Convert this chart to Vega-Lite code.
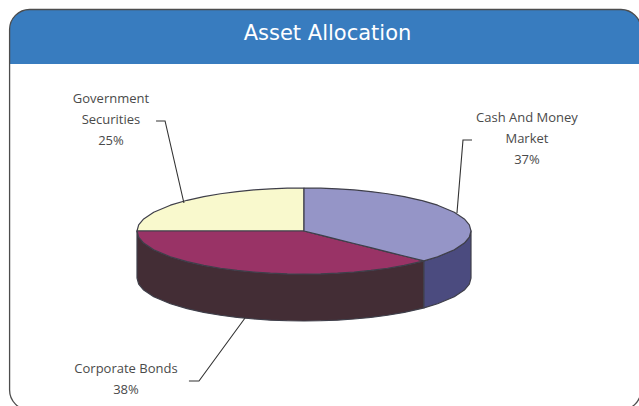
{
"$schema":"https://vega.github.io/schema/vega-lite/v6.json",
"width":639,"height":406,"padding":0,"autosize":"none","background":"white",
"config":{"view":{"stroke":null}},
"title":{"text":"Asset Allocation","font":"DejaVu Sans","fontSize":21,"fontWeight":"normal","color":"#ffffff","anchor":"middle","dx":8,"offset":-55,"baseline":"middle"},
"datasets":{
"panel":[{"name":"card","x":-1.763,"x2":2.018,"y":5.151,"y2":-4.163,"hy":3.884}],
"labels":[
{"label":"Government\nSecurities\n25%","x":-1.156,"y":3.07},
{"label":"Cash And Money\nMarket\n37%","x":1.335,"y":2.628},
{"label":"Corporate Bonds\n38%","x":-1.066,"y":-3.209}],
"leaders":[
{"s":"Government Securities","i":0,"x":-0.886,"y":2.558},{"s":"Government Securities","i":1,"x":-0.832,"y":2.558},{"s":"Government Securities","i":2,"x":-0.719,"y":0.651},
{"s":"Cash And Money Market","i":0,"x":1.006,"y":2.116},{"s":"Cash And Money Market","i":1,"x":0.952,"y":2.116},{"s":"Cash And Money Market","i":2,"x":0.916,"y":0.419},
{"s":"Corporate Bonds","i":0,"x":-0.689,"y":-3.488},{"s":"Corporate Bonds","i":1,"x":-0.629,"y":-3.488},{"s":"Corporate Bonds","i":2,"x":-0.353,"y":-2.023}],
"pie":[
{"piece":"Corporate side","x":-1,"y":0,"y2":-1.093},{"piece":"Corporate side","x":-0.99,"y":-0.141,"y2":-1.234},{"piece":"Corporate side","x":-0.96,"y":-0.28,"y2":-1.373},{"piece":"Corporate side","x":-0.9,"y":-0.436,"y2":-1.529},{"piece":"Corporate side","x":-0.8,"y":-0.6,"y2":-1.693},{"piece":"Corporate side","x":-0.7,"y":-0.714,"y2":-1.807},{"piece":"Corporate side","x":-0.6,"y":-0.8,"y2":-1.893},{"piece":"Corporate side","x":-0.5,"y":-0.866,"y2":-1.959},{"piece":"Corporate side","x":-0.4,"y":-0.917,"y2":-2.01},{"piece":"Corporate side","x":-0.3,"y":-0.954,"y2":-2.047},{"piece":"Corporate side","x":-0.2,"y":-0.98,"y2":-2.073},{"piece":"Corporate side","x":-0.1,"y":-0.995,"y2":-2.088},{"piece":"Corporate side","x":0,"y":-1,"y2":-2.093},{"piece":"Corporate side","x":0.1,"y":-0.995,"y2":-2.088},{"piece":"Corporate side","x":0.2,"y":-0.98,"y2":-2.073},{"piece":"Corporate side","x":0.3,"y":-0.954,"y2":-2.047},{"piece":"Corporate side","x":0.4,"y":-0.917,"y2":-2.01},{"piece":"Corporate side","x":0.5,"y":-0.866,"y2":-1.959},{"piece":"Corporate side","x":0.6,"y":-0.8,"y2":-1.893},{"piece":"Corporate side","x":0.7,"y":-0.714,"y2":-1.807},{"piece":"Corporate side","x":0.718,"y":-0.696,"y2":-1.789},
{"piece":"Cash side","x":0.718,"y":-0.696,"y2":-1.789},{"piece":"Cash side","x":0.8,"y":-0.6,"y2":-1.693},{"piece":"Cash side","x":0.9,"y":-0.436,"y2":-1.529},{"piece":"Cash side","x":0.96,"y":-0.28,"y2":-1.373},{"piece":"Cash side","x":0.99,"y":-0.141,"y2":-1.234},{"piece":"Cash side","x":1,"y":0,"y2":-1.093},
{"piece":"Government","x":-1,"y":0,"y2":0},{"piece":"Government","x":-0.99,"y":0.141,"y2":0},{"piece":"Government","x":-0.96,"y":0.28,"y2":0},{"piece":"Government","x":-0.9,"y":0.436,"y2":0},{"piece":"Government","x":-0.8,"y":0.6,"y2":0},{"piece":"Government","x":-0.7,"y":0.714,"y2":0},{"piece":"Government","x":-0.6,"y":0.8,"y2":0},{"piece":"Government","x":-0.5,"y":0.866,"y2":0},{"piece":"Government","x":-0.4,"y":0.917,"y2":0},{"piece":"Government","x":-0.3,"y":0.954,"y2":0},{"piece":"Government","x":-0.2,"y":0.98,"y2":0},{"piece":"Government","x":-0.1,"y":0.995,"y2":0},{"piece":"Government","x":0,"y":1,"y2":0},
{"piece":"Corporate","x":-1,"y":0,"y2":0},{"piece":"Corporate","x":-0.99,"y":0,"y2":-0.141},{"piece":"Corporate","x":-0.96,"y":0,"y2":-0.28},{"piece":"Corporate","x":-0.9,"y":0,"y2":-0.436},{"piece":"Corporate","x":-0.8,"y":0,"y2":-0.6},{"piece":"Corporate","x":-0.7,"y":0,"y2":-0.714},{"piece":"Corporate","x":-0.6,"y":0,"y2":-0.8},{"piece":"Corporate","x":-0.5,"y":0,"y2":-0.866},{"piece":"Corporate","x":-0.4,"y":0,"y2":-0.917},{"piece":"Corporate","x":-0.3,"y":0,"y2":-0.954},{"piece":"Corporate","x":-0.2,"y":0,"y2":-0.98},{"piece":"Corporate","x":-0.1,"y":0,"y2":-0.995},{"piece":"Corporate","x":0,"y":0,"y2":-1},{"piece":"Corporate","x":0.1,"y":-0.097,"y2":-0.995},{"piece":"Corporate","x":0.2,"y":-0.194,"y2":-0.98},{"piece":"Corporate","x":0.3,"y":-0.291,"y2":-0.954},{"piece":"Corporate","x":0.4,"y":-0.388,"y2":-0.917},{"piece":"Corporate","x":0.5,"y":-0.485,"y2":-0.866},{"piece":"Corporate","x":0.6,"y":-0.582,"y2":-0.8},{"piece":"Corporate","x":0.7,"y":-0.678,"y2":-0.714},{"piece":"Corporate","x":0.718,"y":-0.696,"y2":-0.696},
{"piece":"Cash","x":0,"y":1,"y2":0},{"piece":"Cash","x":0.1,"y":0.995,"y2":-0.097},{"piece":"Cash","x":0.2,"y":0.98,"y2":-0.194},{"piece":"Cash","x":0.3,"y":0.954,"y2":-0.291},{"piece":"Cash","x":0.4,"y":0.917,"y2":-0.388},{"piece":"Cash","x":0.5,"y":0.866,"y2":-0.485},{"piece":"Cash","x":0.6,"y":0.8,"y2":-0.582},{"piece":"Cash","x":0.7,"y":0.714,"y2":-0.678},{"piece":"Cash","x":0.718,"y":0.696,"y2":-0.696},{"piece":"Cash","x":0.8,"y":0.6,"y2":-0.6},{"piece":"Cash","x":0.9,"y":0.436,"y2":-0.436},{"piece":"Cash","x":0.96,"y":0.28,"y2":-0.28},{"piece":"Cash","x":0.99,"y":0.141,"y2":-0.141},{"piece":"Cash","x":1,"y":0,"y2":0}
]},
"encoding":{
"x":{"field":"x","type":"quantitative","axis":null,"scale":{"domain":[-1.8204,2.006],"nice":false,"zero":false}},
"y":{"field":"y","type":"quantitative","axis":null,"scale":{"domain":[-4.07,5.372],"nice":false,"zero":false}}
},
"layer":[
{"data":{"name":"panel"},"mark":{"type":"rect","fill":"#387CBF","cornerRadiusTopLeft":20,"cornerRadiusTopRight":20,"clip":true},
 "encoding":{"x2":{"field":"x2"},"y":{"field":"y","type":"quantitative"},"y2":{"field":"hy"}}},
{"data":{"name":"pie"},"mark":{"type":"area","orient":"vertical","stroke":"#3F3F4A","strokeWidth":1.2,"strokeJoin":"round","interpolate":"linear"},
 "encoding":{"y2":{"field":"y2"},
  "color":{"field":"piece","type":"nominal","legend":null,"sort":null,"scale":{"domain":["Corporate side","Cash side","Government","Corporate","Cash"],"range":["#432D35","#4B4B7F","#F9F9CD","#993366","#9595C7"]}}}},
{"data":{"name":"leaders"},"mark":{"type":"line","color":"#333333","strokeWidth":1.1},
 "encoding":{"detail":{"field":"s"},"order":{"field":"i","type":"ordinal"}}},
{"data":{"name":"labels"},"mark":{"type":"text","font":"Open Sans","fontSize":13,"color":"#4a4a4a","align":"center","baseline":"middle","lineBreak":"\n","lineHeight":21},
 "encoding":{"text":{"field":"label"}}},
{"data":{"name":"panel"},"mark":{"type":"rect","fillOpacity":0,"stroke":"#4d4d4d","strokeWidth":1.3,"cornerRadius":20,"clip":true},
 "encoding":{"x2":{"field":"x2"},"y2":{"field":"y2"}}}
]
}
